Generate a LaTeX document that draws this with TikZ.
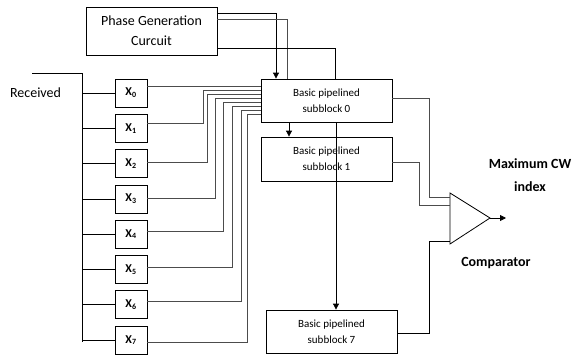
\documentclass[tikz,border=0pt]{standalone}
\usepackage{fontspec}
\setmainfont{Carlito}
\usetikzlibrary{arrows.meta}
\begin{document}
\begin{tikzpicture}[x=1pt,y=-1pt,line width=.8pt,
	blk/.style={draw,minimum width=131pt,minimum height=43pt,inner sep=0pt,align=center,font=\fontsize{11}{16}\selectfont},
	xbox/.style={draw,minimum width=32pt,minimum height=28pt,inner sep=0pt,font=\fontsize{12}{12}\selectfont\bfseries},
	wire/.style={draw=black!70},
	arr/.style={-{Triangle[length=6pt,width=6pt]}},
	lbl/.style={font=\fontsize{14}{23}\selectfont\bfseries,align=center}]
	\useasboundingbox (0,0) rectangle (574,356);
	%BLOCKS
	\node[draw,minimum width=131pt,minimum height=48pt,inner sep=0pt,align=center,font=\fontsize{14}{20}\selectfont] (phase) at (151.5,31) {Phase Generation\\Curcuit};
	\node[blk] (sb0) at (326.5,100.5) {Basic pipelined\\subblock 0};
	\node[blk,minimum height=44pt] (sb1) at (326.5,159) {Basic pipelined\\subblock 1};
	\node[blk] (sb7) at (331.5,331.5) {Basic pipelined\\subblock 7};
	\node[font=\fontsize{14}{14}\selectfont] (rcv) at (35.5,93) {Received};
	\foreach \i in {0,...,7}
		\node[xbox] (x\i) at (131,93+35.3*\i) {X\textsubscript{\i}};
	
	%PHASE INPUTS
	\draw[arr] (phase.east |- 0,13) -| (sb0.north -| 276,0);
	\draw[wire] (phase.east |- 0,19) -| (sb0.north -| 287,0);
	\draw (phase.east |- 0,48) -| (sb0.north -| 335,0);
	\draw[arr] (sb0.south -| 289,0) -- (sb1.north -| 289,0);
	\draw[arr] (sb0.south -| 336,0) -- (sb7.north -| 336,0);
	
	%RECEIVED BUS
	\coordinate (rin) at (32,73);
	\draw (rin) -- (82,73) -- (82,342);
	\foreach \i in {0,...,7}
		\draw (82,0 |- x\i.west) -- (x\i.west);
	\draw[wire] (x0.east |- 0,86) -- (sb0.west |- 0,86);
	\foreach \i/\ya/\xv/\yb in {1/123/203/90, 2/162/207/94, 3/198/215/98, 4/231/223/102, 5/267/232/106, 6/301/241/110, 7/342/247/114}
		\draw[wire] (x\i.east |- 0,\ya) -| (\xv,\yb) -- (sb0.west |- 0,\yb);
	
	%COMPARATOR
	\coordinate (cmpa) at (450,193);
	\coordinate (cmpb) at (450,244);
	\coordinate (cmpo) at (490,218);
	\coordinate (maxcw) at (506,218);
	\draw (cmpa) -- (cmpo) -- (cmpb) -- cycle;
	\draw[wire] (sb0.east |- 0,98) -| (429,197) -- (cmpa |- 0,197);
	\draw[wire] (sb1.east |- 0,162) -| (419,205) -- (cmpa |- 0,205);
	\draw (sb7.east |- 0,333) -| (429,241) -- (cmpa |- 0,241);
	\draw[arr] (cmpo) -- (maxcw);
	\node[lbl] (maxlbl) at (530,175) {Maximum CW\\index};
	\node[lbl] (cmplbl) at (496,263) {Comparator};
\end{tikzpicture}
\end{document}
